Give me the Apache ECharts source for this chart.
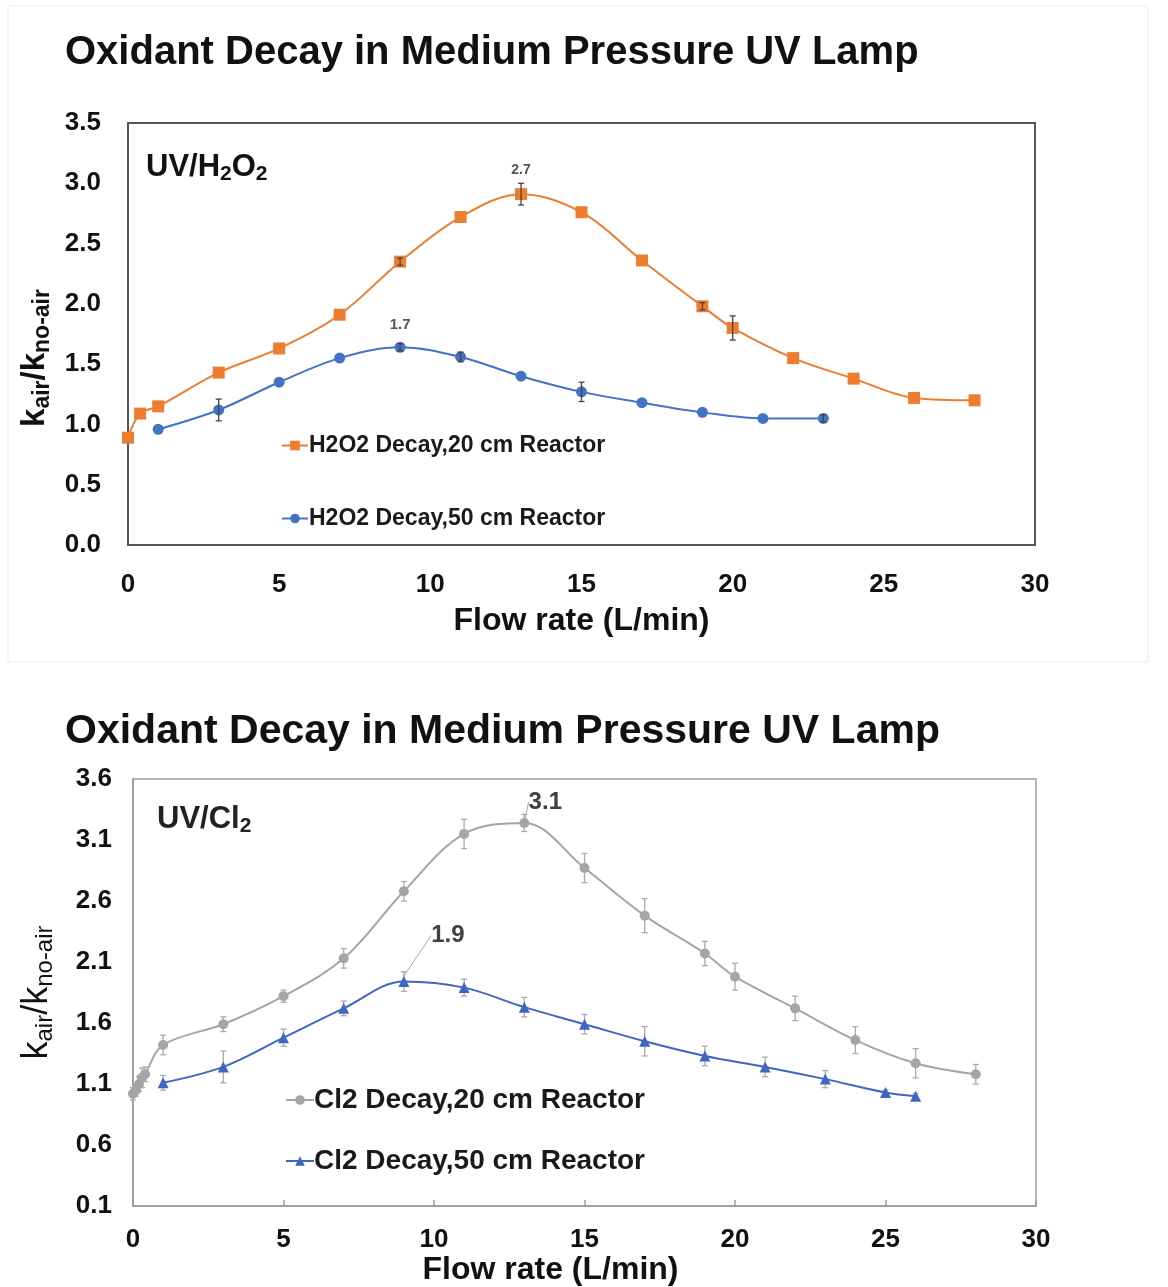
<!DOCTYPE html>
<html>
<head>
<meta charset="utf-8">
<script src="https://cdn.jsdelivr.net/npm/echarts@6/dist/echarts.min.js"></script>
<style>
  html, body { margin: 0; padding: 0; background: #ffffff; }
  #chart { width: 1168px; height: 1287px; }
</style>
</head>
<body>
<div id="chart"></div>
<script>
// ---- UV/H2O2 panel ----
const flowH2O2_20 = [0, 0.4, 1, 3, 5, 7, 9, 11, 13, 15, 17, 19, 20, 22, 24, 26, 28];
const ratioH2O2_20 = [0.89, 1.09, 1.15, 1.43, 1.63, 1.91, 2.35, 2.72, 2.91, 2.76, 2.36, 1.98, 1.80, 1.55, 1.38, 1.22, 1.20];
const errH2O2_20 = [0, 0, 0, 0, 0, 0, 0.03, 0, 0.09, 0, 0, 0.03, 0.10, 0, 0, 0, 0];

const flowH2O2_50 = [1, 3, 5, 7, 9, 11, 13, 15, 17, 19, 21, 23];
const ratioH2O2_50 = [0.96, 1.12, 1.35, 1.55, 1.64, 1.56, 1.40, 1.27, 1.18, 1.10, 1.05, 1.05];
const errH2O2_50 = [0, 0.09, 0, 0, 0.03, 0.04, 0, 0.08, 0, 0, 0, 0.03];

// ---- UV/Cl2 panel ----
const flowCl2_20 = [0, 0.1, 0.2, 0.3, 0.4, 1, 3, 5, 7, 9, 11, 13, 15, 17, 19, 20, 22, 24, 26, 28];
const ratioCl2_20 = [1.02, 1.05, 1.10, 1.15, 1.18, 1.42, 1.59, 1.82, 2.13, 2.68, 3.15, 3.24, 2.87, 2.48, 2.17, 1.98, 1.72, 1.46, 1.27, 1.18];
const errCl2_20 = [0.05, 0.05, 0.06, 0.08, 0.06, 0.08, 0.06, 0.05, 0.08, 0.08, 0.12, 0.07, 0.12, 0.14, 0.10, 0.11, 0.10, 0.11, 0.12, 0.08];

const flowCl2_50 = [1, 3, 5, 7, 9, 11, 13, 15, 17, 19, 21, 23, 25, 26];
const ratioCl2_50 = [1.11, 1.24, 1.48, 1.72, 1.94, 1.89, 1.73, 1.59, 1.45, 1.33, 1.24, 1.14, 1.03, 1.00];
const errCl2_50 = [0.06, 0.13, 0.07, 0.06, 0.08, 0.07, 0.08, 0.08, 0.12, 0.08, 0.08, 0.07, 0.02, 0.02];

// peak annotations: index of the annotated point and its note
const noteH2O2_20 = { index: 8, text: '2.7' };
const noteH2O2_50 = { index: 4, text: '1.7' };
const noteCl2_20 = { index: 11, text: '3.1' };
const noteCl2_50 = { index: 4, text: '1.9' };

// axis ticks
const xTicks = { min: 0, max: 30, step: 5 };
const yTicksH2O2 = { min: 0, max: 3.5, step: 0.5 };
const yTicksCl2 = { min: 0.1, max: 3.6, step: 0.5 };

const panelTitle = 'Oxidant Decay in Medium Pressure UV Lamp';
const namesH2O2 = ['H2O2 Decay,20 cm Reactor', 'H2O2 Decay,50 cm Reactor'];
const namesCl2 = ['Cl2 Decay,20 cm Reactor', 'Cl2 Decay,50 cm Reactor'];

const FONT = 'Arial, "Liberation Sans", Helvetica, sans-serif';
const ORANGE = '#ED7D31';
const BLUE = '#4472C4';
const GREY = '#A5A5A5';
const BLUE2 = '#3F66C3';

function bars(xs, ys, es) {
  return xs.map((x, i) => [x, ys[i] - es[i], ys[i] + es[i]]).filter((d, i) => es[i] > 0);
}

function withNote(xs, ys, note, label) {
  return xs.map((x, i) => (i === note.index
    ? { value: [x, ys[i]], label: Object.assign({ show: true, formatter: note.text }, label) }
    : [x, ys[i]]));
}

function errorBarRender(color, cap, width) {
  return function (params, api) {
    const x = api.value(0);
    const lo = api.coord([x, api.value(1)]);
    const hi = api.coord([x, api.value(2)]);
    const st = { stroke: color, lineWidth: width };
    return {
      type: 'group',
      children: [
        { type: 'line', shape: { x1: lo[0], y1: lo[1], x2: hi[0], y2: hi[1] }, style: st },
        { type: 'line', shape: { x1: lo[0] - cap, y1: lo[1], x2: lo[0] + cap, y2: lo[1] }, style: st },
        { type: 'line', shape: { x1: hi[0] - cap, y1: hi[1], x2: hi[0] + cap, y2: hi[1] }, style: st }
      ]
    };
  };
}

const subRich = (size, subSize, weight, color) => ({
  b: { fontSize: size, fontWeight: weight, color: color, fontFamily: FONT },
  s: { fontSize: subSize, fontWeight: weight, color: color, fontFamily: FONT, padding: [Math.round(size * 0.45), 0, 0, 0] }
});

const option = {
  backgroundColor: '#ffffff',
  animation: false,
  graphic: [
    { type: 'rect', shape: { x: 8, y: 6, width: 1140, height: 656 }, style: { fill: 'none', stroke: '#ececec', lineWidth: 1 } }
  ],
  title: [
    { text: panelTitle, left: 60, top: 28, textStyle: { fontFamily: FONT, fontSize: 40, fontWeight: 'bold', color: '#111' } },
    { text: panelTitle, left: 60, top: 706, textStyle: { fontFamily: FONT, fontSize: 41, fontWeight: 'bold', color: '#111' } },
    { text: '{b|UV/H}{s|2}{b|O}{s|2}', left: 141, top: 145, textStyle: { rich: subRich(31, 21, 'bold', '#111') } },
    { text: '{b|UV/Cl}{s|2}', left: 152, top: 797, textStyle: { rich: subRich(31, 21, 'bold', '#222') } }
  ],
  legend: [
    {
      data: namesH2O2, left: 276, top: 429, orient: 'vertical', itemGap: 50,
      itemWidth: 26, itemHeight: 12,
      textStyle: { fontFamily: FONT, fontSize: 23, fontWeight: 'bold', color: '#1a1a1a', padding: [0, 0, 0, -4] }
    },
    {
      data: namesCl2, left: 280, top: 1081, orient: 'vertical', itemGap: 33,
      itemWidth: 28, itemHeight: 12,
      textStyle: { fontFamily: FONT, fontSize: 28, fontWeight: 'bold', color: '#1a1a1a', padding: [0, 0, 0, -5] }
    }
  ],
  grid: [
    { left: 128, top: 123, right: 133, bottom: 742, show: true, borderColor: '#555', borderWidth: 2, backgroundColor: '#fff' },
    { left: 133, top: 779, right: 132, bottom: 76, show: true, borderColor: '#9a9a9a', borderWidth: 1.5, backgroundColor: '#fff' }
  ],
  xAxis: [
    {
      gridIndex: 0, type: 'value', min: xTicks.min, max: xTicks.max, interval: xTicks.step,
      name: 'Flow rate (L/min)', nameLocation: 'middle', nameGap: 60,
      nameTextStyle: { fontFamily: FONT, fontSize: 32, fontWeight: 'bold', color: '#111' },
      axisLine: { show: true, lineStyle: { color: '#555', width: 2 } },
      axisTick: { show: false }, splitLine: { show: false },
      axisLabel: { margin: 27, fontFamily: FONT, fontSize: 26, fontWeight: 'bold', color: '#111' }
    },
    {
      gridIndex: 1, type: 'value', min: xTicks.min, max: xTicks.max, interval: xTicks.step,
      name: 'Flow rate (L/min)', nameLocation: 'middle', nameGap: 48,
      nameTextStyle: { fontFamily: FONT, fontSize: 32, fontWeight: 'bold', color: '#111', padding: [0, 68, 0, 0] },
      axisLine: { show: true, lineStyle: { color: '#9a9a9a', width: 1.5 } },
      axisTick: { show: true, inside: true, length: 6, lineStyle: { color: '#9a9a9a', width: 1.5 } },
      splitLine: { show: false },
      axisLabel: { margin: 21, fontFamily: FONT, fontSize: 26, fontWeight: 'bold', color: '#111' }
    }
  ],
  yAxis: [
    {
      gridIndex: 0, type: 'value', min: yTicksH2O2.min, max: yTicksH2O2.max, interval: yTicksH2O2.step,
      name: '{b|k}{s|air}{b|/k}{s|no-air}', nameLocation: 'middle', nameGap: 68, nameRotate: 90,
      nameTextStyle: { padding: [0, 48, 0, 0], rich: subRich(33, 23, 'bold', '#111') },
      axisLine: { show: true, lineStyle: { color: '#555', width: 2 } },
      axisTick: { show: false }, splitLine: { show: false },
      axisLabel: { margin: 27, fontFamily: FONT, fontSize: 26, fontWeight: 'bold', color: '#111', formatter: v => v.toFixed(1) }
    },
    {
      gridIndex: 1, type: 'value', min: yTicksCl2.min, max: yTicksCl2.max, interval: yTicksCl2.step,
      name: '{b|k}{s|air}{b|/k}{s|no-air}', nameLocation: 'middle', nameGap: 76, nameRotate: 90,
      nameTextStyle: { rich: subRich(36, 24, 'normal', '#111') },
      axisLine: { show: true, lineStyle: { color: '#9a9a9a', width: 1.5 } },
      axisTick: { show: false }, splitLine: { show: false },
      axisLabel: { margin: 21, fontFamily: FONT, fontSize: 26, fontWeight: 'bold', color: '#111', formatter: v => v.toFixed(1) }
    }
  ],
  series: [
    {
      name: namesH2O2[0], type: 'line', xAxisIndex: 0, yAxisIndex: 0, smooth: 0.35,
      symbol: 'rect', symbolSize: 12, color: ORANGE, lineStyle: { width: 2, color: ORANGE },
      data: withNote(flowH2O2_20, ratioH2O2_20, noteH2O2_20,
        { position: 'top', distance: 11, fontFamily: FONT, fontSize: 14, fontWeight: 'bold', color: '#555' }),
      z: 3
    },
    {
      name: namesH2O2[1], type: 'line', xAxisIndex: 0, yAxisIndex: 0, smooth: 0.35,
      symbol: 'circle', symbolSize: 11, color: BLUE, lineStyle: { width: 2, color: BLUE },
      data: withNote(flowH2O2_50, ratioH2O2_50, noteH2O2_50,
        { position: 'top', distance: 9, fontFamily: FONT, fontSize: 15, fontWeight: 'bold', color: '#555' }),
      z: 3
    },
    {
      type: 'custom', xAxisIndex: 0, yAxisIndex: 0, encode: { x: 0, y: [1, 2] },
      renderItem: errorBarRender('#444', 3, 1.3), data: bars(flowH2O2_20, ratioH2O2_20, errH2O2_20), z: 4, silent: true
    },
    {
      type: 'custom', xAxisIndex: 0, yAxisIndex: 0, encode: { x: 0, y: [1, 2] },
      renderItem: errorBarRender('#444', 3, 1.3), data: bars(flowH2O2_50, ratioH2O2_50, errH2O2_50), z: 4, silent: true
    },
    {
      name: namesCl2[0], type: 'line', xAxisIndex: 1, yAxisIndex: 1, smooth: 0.35,
      symbol: 'circle', symbolSize: 10, color: GREY, lineStyle: { width: 2, color: GREY },
      data: withNote(flowCl2_20, ratioCl2_20, noteCl2_20,
        { position: 'inside', fontFamily: FONT, fontSize: 24, fontWeight: 'bold', color: '#404040' }),
      labelLayout: { dx: 21, dy: -21 },
      labelLine: { show: true, length2: 0, lineStyle: { color: '#aaa', width: 1 } },
      z: 3
    },
    {
      name: namesCl2[1], type: 'line', xAxisIndex: 1, yAxisIndex: 1, smooth: 0.35,
      symbol: 'triangle', symbolSize: 11, color: BLUE2, lineStyle: { width: 2, color: BLUE2 },
      data: withNote(flowCl2_50, ratioCl2_50, noteCl2_50,
        { position: 'inside', fontFamily: FONT, fontSize: 24, fontWeight: 'bold', color: '#404040' }),
      labelLayout: { dx: 44, dy: -46 },
      labelLine: { show: true, length2: 0, lineStyle: { color: '#aaa', width: 1 } },
      z: 3
    },
    {
      type: 'custom', xAxisIndex: 1, yAxisIndex: 1, encode: { x: 0, y: [1, 2] },
      renderItem: errorBarRender('#aaa', 3, 1.3), data: bars(flowCl2_20, ratioCl2_20, errCl2_20), z: 2, silent: true
    },
    {
      type: 'custom', xAxisIndex: 1, yAxisIndex: 1, encode: { x: 0, y: [1, 2] },
      renderItem: errorBarRender('#aaa', 3, 1.3), data: bars(flowCl2_50, ratioCl2_50, errCl2_50), z: 2, silent: true
    }
  ]
};

const chart = echarts.init(document.getElementById('chart'), null, { renderer: 'canvas' });
chart.setOption(option);
</script>
</body>
</html>
